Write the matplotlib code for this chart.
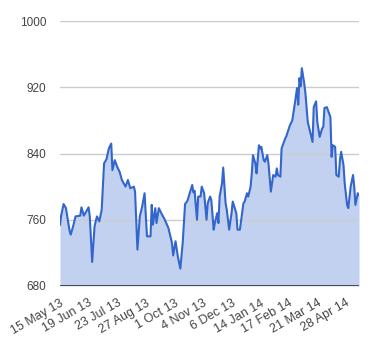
import matplotlib
matplotlib.use("Agg")
import matplotlib.pyplot as plt

plt.rcParams['font.family'] = ['Liberation Sans', 'DejaVu Sans']

# trading-day index (0 = 15 May 13) and closing value
day_index = [0, 1, 3, 5, 7, 8, 9, 11, 13, 17, 18, 20, 22, 24, 25, 27, 29, 31, 33, 35,
             37, 39, 41, 43, 44, 46, 48, 50, 52, 55, 57, 59, 62, 63, 65, 67, 69, 71, 73, 76,
             77, 78, 80, 81, 83, 85, 88, 91, 94, 95, 97, 99, 101, 103, 105, 107, 111, 112, 113, 115,
             116, 118, 119, 121, 123, 124, 126, 127, 129, 130, 132, 133, 134, 136, 137, 139, 140, 142, 144, 145,
             148, 149, 151, 154, 155, 157, 158, 160, 161, 162, 164, 165, 167, 168, 169, 171, 172, 174, 175, 177,
             179, 181, 182, 183, 185, 186, 189, 190, 193, 195, 197, 199, 200, 201, 202, 203, 205, 206, 208, 210,
             212, 213, 215, 216, 218, 220, 221, 222, 224, 225, 227, 228, 229, 231, 232, 234, 235, 236, 238, 239,
             241, 242, 244, 246, 247, 248, 250, 251]
price = [754, 765, 779, 774, 756, 747, 742, 752, 764, 765, 775, 765, 770, 775, 764, 709, 752, 764, 758, 772,
         828, 833, 846, 852, 820, 832, 824, 818, 808, 800, 808, 798, 800, 794, 724, 764, 776, 792, 740, 740,
         778, 754, 774, 756, 774, 768, 760, 750, 732, 717, 734, 715, 701, 732, 779, 783, 802, 793, 795, 760,
         788, 788, 800, 792, 760, 780, 788, 784, 748, 756, 768, 756, 788, 804, 823, 780, 772, 748, 768, 782,
         768, 748, 748, 780, 782, 792, 788, 800, 816, 838, 828, 816, 850, 846, 848, 832, 830, 838, 828, 794,
         814, 812, 822, 814, 812, 846, 858, 861, 874, 880, 899, 919, 899, 931, 921, 943, 925, 913, 878, 866,
         854, 896, 903, 878, 860, 870, 872, 895, 896, 892, 884, 836, 850, 848, 814, 812, 832, 842, 826, 804,
         778, 774, 800, 814, 800, 778, 792, 790]

tick_index = [0, 24, 48, 72, 96, 120, 144, 168, 192, 216, 240]
tick_labels = ['15 May 13', '19 Jun 13', '23 Jul 13', '27 Aug 13', '1 Oct 13', '4 Nov 13',
               '6 Dec 13', '14 Jan 14', '17 Feb 14', '21 Mar 14', '28 Apr 14']
y_ticks = [680, 760, 840, 920, 1000]

fig = plt.figure(figsize=(3.8, 3.6), dpi=100)
ax = fig.add_axes([60/380, 74/360, 299/380, 265/360])

ax.fill_between(day_index, price, 680, color='#c2d1f0', lw=0, zorder=1)
ax.plot(day_index, price, color='#3366cc', lw=1.5, zorder=3, solid_joinstyle='round')

ax.set_ylim(680, 1000)
ax.set_xlim(0, 251)
ax.set_yticks(y_ticks)
ax.set_yticklabels([str(v) for v in y_ticks])
for v in y_ticks[1:]:
    ax.axhline(v, color='#cccccc', lw=1, zorder=2)
ax.axhline(680, color='#333333', lw=1.2, zorder=4)

ax.set_xticks(tick_index)
ax.set_xticklabels(tick_labels, rotation=30, ha='right', rotation_mode='anchor')
for s in ax.spines.values():
    s.set_visible(False)
ax.tick_params(axis='both', length=0, colors='#444444')
ax.tick_params(axis='y', pad=10, labelsize=8.5)
ax.tick_params(axis='x', pad=8, labelsize=9)

fig.savefig('out.png', dpi=100)
